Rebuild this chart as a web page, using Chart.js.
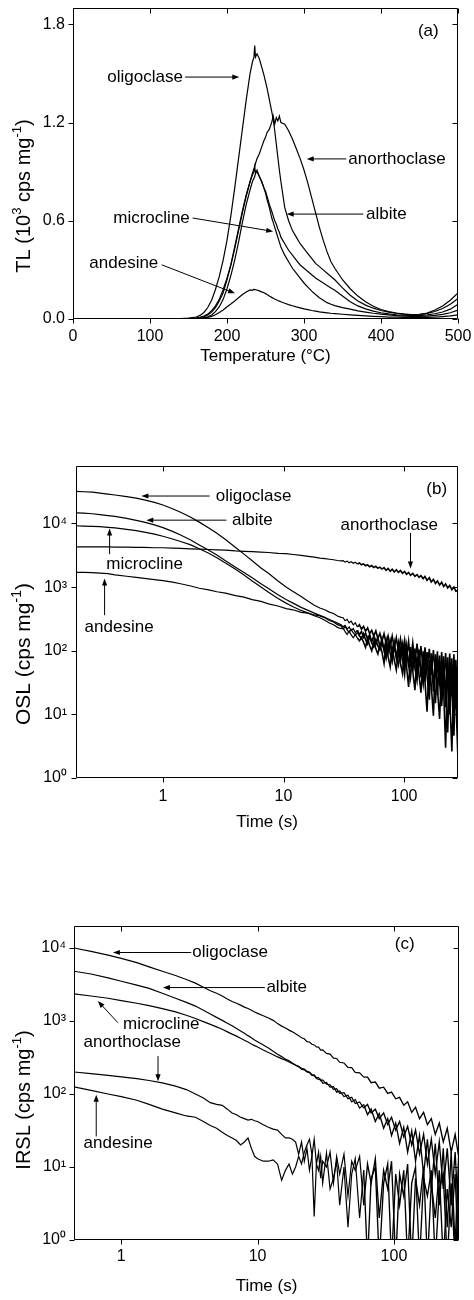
<!DOCTYPE html>
<html>
<head>
<meta charset="utf-8">
<title>TL, OSL and IRSL of feldspars</title>
<script src="https://cdn.jsdelivr.net/npm/chart.js@4.4.1/dist/chart.umd.min.js"></script>
<style>
  html, body { margin: 0; padding: 0; background: #fff; }
  body { position: relative; width: 474px; height: 1300px; overflow: hidden; }
  canvas { position: absolute; left: 0; }
</style>
</head>
<body>
<canvas id="tlChart" width="474" height="375" style="top:0px"></canvas>
<canvas id="oslChart" width="474" height="400" style="top:440px"></canvas>
<canvas id="irslChart" width="474" height="400" style="top:900px"></canvas>
<script>
// ---------- (a) TL glow curves, 10^3 cps/mg ----------
const tlTemp = [0, 50, 100, 140, 150, 160, 165, 170, 175, 180, 185, 190, 195, 200, 205, 210, 215, 220, 225, 230,
  233, 235, 236, 237, 239, 242, 245, 248, 250, 252, 255, 258, 260, 262, 264, 266, 268, 270, 275, 280,
  285, 290, 295, 300, 305, 310, 315, 320, 325, 330, 335, 340, 350, 360, 370, 380, 390, 400, 410, 420,
  430, 440, 450, 460, 470, 480, 490, 500];
const tlOligoclase = [0.002, 0.001, 0.002, 0.003, 0.005, 0.012, 0.022, 0.04, 0.07, 0.115, 0.18, 0.26, 0.36, 0.48, 0.63, 0.8, 0.98, 1.16, 1.34, 1.5,
  1.57, 1.6, 1.67, 1.6, 1.62, 1.59, 1.54, 1.49, 1.45, 1.41, 1.34, 1.27, 1.22, 1.15, 1.07, 0.99, 0.91, 0.84, 0.68, 0.6,
  0.54, 0.5, 0.46, 0.43, 0.4, 0.37, 0.34, 0.32, 0.3, 0.28, 0.26, 0.24, 0.19, 0.145, 0.11, 0.085, 0.066, 0.052, 0.042, 0.035,
  0.03, 0.027, 0.028, 0.034, 0.046, 0.064, 0.09, 0.125];
const tlAnorthoclase = [0.001, 0.002, 0.001, 0.002, 0.003, 0.006, 0.01, 0.018, 0.03, 0.05, 0.08, 0.12, 0.18, 0.25, 0.33, 0.43, 0.54, 0.65, 0.75, 0.84,
  0.89, 0.92, 0.93, 0.95, 0.98, 1.01, 1.05, 1.09, 1.11, 1.14, 1.16, 1.2, 1.24, 1.19, 1.23, 1.21, 1.24, 1.2, 1.19, 1.15,
  1.1, 1.04, 0.98, 0.91, 0.83, 0.74, 0.65, 0.56, 0.48, 0.41, 0.35, 0.31, 0.24, 0.185, 0.14, 0.105, 0.078, 0.058, 0.045, 0.036,
  0.03, 0.026, 0.027, 0.036, 0.055, 0.08, 0.115, 0.16];
const tlAlbite = [0.001, 0.001, 0.002, 0.002, 0.003, 0.005, 0.008, 0.014, 0.025, 0.042, 0.07, 0.11, 0.16, 0.24, 0.33, 0.44, 0.55, 0.66, 0.76, 0.84,
  0.88, 0.9, 0.93, 0.89, 0.91, 0.87, 0.84, 0.8, 0.78, 0.75, 0.7, 0.66, 0.63, 0.6, 0.58, 0.55, 0.53, 0.5, 0.46, 0.42,
  0.39, 0.36, 0.33, 0.31, 0.29, 0.27, 0.25, 0.235, 0.22, 0.205, 0.19, 0.175, 0.14, 0.105, 0.08, 0.062, 0.048, 0.038, 0.031, 0.026,
  0.023, 0.021, 0.021, 0.025, 0.032, 0.043, 0.06, 0.09];
const tlMicrocline = [0.001, 0.001, 0.001, 0.002, 0.002, 0.003, 0.005, 0.008, 0.014, 0.024, 0.045, 0.075, 0.12, 0.185, 0.265, 0.36, 0.47, 0.59, 0.7, 0.79,
  0.84, 0.86, 0.87, 0.89, 0.9, 0.87, 0.84, 0.8, 0.77, 0.73, 0.68, 0.62, 0.59, 0.56, 0.53, 0.5, 0.47, 0.44, 0.39, 0.35,
  0.31, 0.28, 0.25, 0.22, 0.195, 0.17, 0.15, 0.13, 0.115, 0.1, 0.09, 0.082, 0.07, 0.06, 0.05, 0.042, 0.035, 0.03, 0.025, 0.021,
  0.018, 0.016, 0.016, 0.018, 0.022, 0.028, 0.038, 0.055];
const tlAndesine = [0.001, 0.001, 0.001, 0.001, 0.002, 0.003, 0.004, 0.006, 0.01, 0.016, 0.026, 0.04, 0.055, 0.075, 0.092, 0.11, 0.13, 0.15, 0.165, 0.178,
  0.175, 0.182, 0.178, 0.18, 0.176, 0.172, 0.166, 0.16, 0.155, 0.15, 0.14, 0.132, 0.127, 0.122, 0.118, 0.113, 0.109, 0.105, 0.096, 0.088,
  0.081, 0.074, 0.068, 0.062, 0.057, 0.052, 0.048, 0.044, 0.041, 0.038, 0.035, 0.033, 0.029, 0.025, 0.022, 0.019, 0.016, 0.014, 0.012, 0.011,
  0.01, 0.009, 0.009, 0.01, 0.012, 0.015, 0.019, 0.025];
const tlTempTicks = [0, 50, 100, 150, 200, 250, 300, 350, 400, 450, 500];
const tlTempMajor = [0, 100, 200, 300, 400, 500];
const tlTempLabels = ['0', '100', '200', '300', '400', '500'];
const tlCountTicks = [0, 0.3, 0.6, 0.9, 1.2, 1.5, 1.8];
const tlCountMajor = [0, 0.6, 1.2, 1.8];
const tlCountLabels = ['0.0', '0.6', '1.2', '1.8'];

// ---------- (b) OSL decay curves, cps/mg ----------
const oslTime = [0.19, 0.22, 0.26, 0.3, 0.35, 0.4, 0.5, 0.6, 0.7, 0.85, 1, 1.2, 1.4, 1.7, 2, 2.4, 2.8, 3.3, 4, 4.7,
  5.5, 6.5, 7.5, 9, 10.5, 12, 14, 16, 18,
  20, 22, 24, 26, 28, 30, 31.2, 32.4, 33.7, 35, 36.4, 37.9, 39.4, 41, 42.6, 44.3,
  46.1, 47.9, 49.8, 51.8, 53.9, 56, 58.3, 60.6, 63, 65.5, 68.2, 70.9, 73.7, 76.7, 79.7, 82.9, 86.2, 89.7, 93.3, 97,
  101, 105, 109, 113, 118, 123, 128, 133, 138, 144, 149, 155, 162, 168, 175, 182, 189, 197, 205, 213,
  221, 230, 239, 249, 259, 269, 280];
const oslOligoclase = [32000, 31500, 31000, 30000, 29000, 28000, 26500, 25000, 23500, 21500, 19500, 17000, 15000, 12500, 10500, 8500, 7000, 5600, 4200, 3300,
  2600, 2000, 1650, 1250, 1000, 850, 710, 600, 520,
  470, 440, 405, 385, 352, 335, 330, 296, 312, 275, 292, 255, 275, 236, 257, 218,
  241, 202, 228, 186, 209, 170, 205, 155, 188, 140, 185, 130, 172, 116, 170, 110, 160, 97, 154, 92,
  148, 77, 140, 66, 133, 63, 130, 57, 118, 52, 113, 52, 107, 42, 102, 40, 98, 28, 95, 26,
  92, 25, 90, 19, 88, 12, 84];
const oslAlbite = [14700, 14500, 14200, 13800, 13300, 12900, 12000, 11200, 10500, 9500, 8600, 7500, 6600, 5500, 4600, 3800, 3200, 2600, 2050, 1700,
  1400, 1130, 950, 760, 640, 560, 480, 430, 390,
  360, 334, 310, 290, 272, 257, 238, 250, 220, 236, 207, 223, 192, 211, 178, 200,
  163, 189, 151, 180, 138, 170, 126, 163, 115, 156, 104, 149, 95, 142, 85, 136, 77, 131, 69, 124,
  62, 119, 55, 114, 48, 108, 43, 104, 38, 98, 33, 95, 27, 91, 23, 88, 20, 84, 16, 82,
  13, 79, 10, 76, 8, 72, 6];
const oslMicrocline = [9200, 9100, 9000, 8900, 8700, 8500, 8100, 7700, 7300, 6800, 6300, 5700, 5200, 4600, 4000, 3400, 2900, 2400, 1900, 1550,
  1250, 1000, 830, 660, 560, 490, 430, 390, 355,
  330, 302, 272, 256, 233, 222, 229, 200, 180, 204, 177, 160, 181, 158, 143, 161,
  136, 113, 157, 121, 100, 139, 107, 89, 124, 96, 63, 126, 81, 56, 112, 72, 50, 100, 64, 44,
  101, 54, 27, 90, 48, 24, 81, 42, 22, 71, 33, 11, 72, 29, 9.5, 63, 26, 8.5, 56, 23,
  3, 55, 20, 2.6, 48, 17, 1.9];
const oslAnorthoclase = [4300, 4300, 4300, 4280, 4280, 4250, 4250, 4200, 4200, 4150, 4150, 4100, 4050, 4000, 3950, 3900, 3850, 3800, 3700, 3650,
  3600, 3550, 3500, 3400, 3350, 3250, 3150, 3050, 2950,
  2850, 2800, 2740, 2690, 2620, 2590, 2610, 2470, 2560, 2420, 2510, 2370, 2460, 2300, 2390, 2240,
  2320, 2160, 2240, 2090, 2180, 2030, 2120, 1980, 2060, 1920, 2020, 1830, 1960, 1770, 1910, 1730, 1870, 1700, 1820, 1650,
  1760, 1590, 1700, 1530, 1640, 1480, 1570, 1420, 1510, 1360, 1470, 1280, 1400, 1200, 1320, 1140, 1250, 1080, 1190, 1020,
  1120, 970, 1060, 910, 1000, 860, 890];
const oslAndesine = [1700, 1700, 1690, 1660, 1630, 1560, 1480, 1420, 1370, 1310, 1260, 1200, 1130, 1040, 960, 905, 845, 805, 735, 695,
  635, 595, 545, 505, 460, 440, 400, 390, 365,
  352, 330, 298, 283, 257, 246, 218, 242, 213, 194, 216, 190, 175, 194, 172, 156,
  186, 149, 128, 168, 133, 115, 150, 119, 103, 133, 102, 76, 135, 91, 67, 121, 81, 60, 108, 73,
  42, 107, 61, 38, 96, 54, 34, 86, 49, 30, 87, 41, 17, 78, 36, 15, 69, 32, 13.5, 61,
  27, 5.2, 61, 24, 4.6, 55, 22];

// ---------- (c) IRSL decay curves, cps/mg ----------
const irslTime = [0.45, 0.6, 0.8, 1, 1.3, 1.6, 2, 2.5, 3, 3.5, 4, 4.5, 5, 5.5, 6, 6.5, 7, 7.5, 8, 8.5,
  9, 9.5, 10, 11, 12, 13, 14, 15, 16, 17, 18, 19, 20, 21, 22, 23, 24, 25, 26, 27,
  28, 29, 30, 32, 34, 36, 38, 40, 43, 46, 49, 52, 56, 60, 64, 68, 73, 78, 84, 90,
  96, 103, 110, 118, 126, 135, 144, 154, 165, 176, 188, 201, 215, 230, 246, 263, 281, 298];
const irslOligoclase = [10000, 9000, 8000, 7200, 6300, 5500, 4800, 4200, 3700, 3300, 2900, 2600, 2400, 2200, 2000, 1850, 1750, 1650, 1550, 1480,
  1400, 1330, 1270, 1180, 1100, 1020, 920, 850, 800, 750, 710, 670, 630, 590, 570, 520, 515, 480, 470, 440,
  438, 400, 402, 360, 352, 310, 306, 272, 266, 232, 230, 198, 195, 170, 170, 143, 146, 120, 124, 102,
  106, 86, 90, 70, 78, 56, 66, 46, 56, 38, 46, 28, 40, 22, 34, 16, 28, 14];
const irslAlbite = [4800, 4400, 3900, 3500, 3100, 2800, 2400, 2050, 1800, 1600, 1400, 1250, 1120, 1020, 930, 860, 790, 730, 680, 630,
  590, 550, 520, 470, 425, 385, 350, 325, 300, 285, 265, 250, 240, 225, 220, 204, 200, 185, 183, 168,
  168, 152, 156, 136, 134, 116, 118, 102, 104, 86, 90, 74, 78, 64, 72, 55, 62, 46, 55, 38,
  48, 32, 42, 26, 36, 20, 32, 15, 28, 11, 24, 8, 22, 5, 18, 3, 16, 2];
const irslMicrocline = [2350, 2200, 2050, 1900, 1750, 1620, 1480, 1330, 1200, 1080, 980, 900, 830, 770, 710, 660, 620, 580, 545, 515,
  485, 460, 440, 400, 370, 345, 322, 305, 290, 275, 260, 248, 235, 218, 214, 200, 196, 180, 178, 163,
  158, 160, 140, 144, 124, 126, 106, 110, 92, 96, 78, 84, 64, 72, 52, 62, 42, 54, 34, 46,
  27, 40, 21, 35, 16, 31, 12, 27, 8, 24, 5, 21, 3, 18, 1.5, 16, 0.8, 14];
const irslAnorthoclase = [200, 190, 180, 172, 162, 153, 142, 128, 115, 100, 88, 76, 72, 70, 62, 55, 52, 48, 46, 44,
  45, 43, 42, 38, 35, 33, 32, 28, 25, 25, 24, 22, 15, 22, 12, 18, 9, 14, 24, 11,
  16, 7, 12, 10, 16, 6, 14, 8, 15, 4, 12, 9, 14, 3, 11, 6, 13, 2, 9, 5,
  12, 0.5, 8, 4, 11, 0.5, 7, 3, 10, 0.5, 6, 2, 9, 0.5, 5, 1.5, 8, 0.5];
const irslAndesine = [125, 112, 100, 92, 82, 72, 62, 55, 50, 48, 42, 37, 34, 30, 27, 25, 23, 20, 22, 25,
  18, 14, 13, 12, 12, 12.5, 11, 6.6, 9, 11, 8, 10, 14, 11, 16, 20, 24, 15, 2.1, 11,
  9, 14, 6, 15.5, 5, 7, 12, 3, 10, 1.5, 8, 13, 2, 9, 0.5, 7, 10, 0.5, 6, 11,
  0.5, 8, 3, 9, 0.5, 6, 10, 0.5, 7, 4, 9, 0.5, 5, 8, 0.5, 6, 0.5, 4];

// log axis labels
const timeMajor = [1, 10, 100];
const timeLabels = ['1', '10', '100'];
const countMajor = [1, 10, 100, 1000, 10000];
const countLabels = ['10⁰', '10¹', '10²', '10³', '10⁴'];

// ---------- labels with arrows (data coordinates) ----------
const tlNotes = [
  { text: 'oligoclase', x: 44.5, y: 1.478 },
  { text: 'anorthoclase', x: 357.5, y: 0.978 },
  { text: 'albite', x: 380.5, y: 0.641 },
  { text: 'microcline', x: 52.3, y: 0.617 },
  { text: 'andesine', x: 21.2, y: 0.341 },
  { text: '(a)', x: 448, y: 1.76 }
];
const tlArrows = [
  [145.5, 1.478, 216, 1.478],
  [355, 0.978, 303.5, 0.978],
  [377, 0.641, 277.5, 0.641],
  [155.4, 0.617, 260, 0.535],
  [115.2, 0.331, 210.4, 0.157]
];
const oslNotes = [
  { text: 'oligoclase', x: 2.74, y: 27000 },
  { text: 'albite', x: 3.74, y: 11270 },
  { text: 'anorthoclase', x: 29.7, y: 9400 },
  { text: 'microcline', x: 0.339, y: 2290 },
  { text: 'andesine', x: 0.224, y: 237 },
  { text: '(b)', x: 153, y: 34300 }
];
const oslArrows = [
  [2.44, 27000, 0.662, 27000],
  [3.36, 11270, 0.728, 11270],
  [0.361, 3290, 0.361, 8320],
  [0.328, 362, 0.328, 1365],
  [113, 7110, 113, 1960]
];
const irslNotes = [
  { text: 'oligoclase', x: 3.32, y: 8670 },
  { text: 'albite', x: 11.6, y: 2870 },
  { text: 'microcline', x: 1.03, y: 898 },
  { text: 'anorthoclase', x: 0.529, y: 503 },
  { text: 'andesine', x: 0.529, y: 21.3 },
  { text: '(c)', x: 101.5, y: 11300 }
];
const irslArrows = [
  [3.26, 8670, 0.868, 8670],
  [11.3, 2870, 2.02, 2870],
  [0.944, 948, 0.673, 1876],
  [1.86, 330, 1.86, 149],
  [0.655, 26.2, 0.655, 98]
];

const FONT = '"Liberation Sans", Arial, Helvetica, sans-serif';
Chart.defaults.font.family = FONT;
Chart.defaults.color = '#000';

const toPoints = (xs, ys) => xs.map((x, i) => ({ x: x, y: ys[i] }));
// noisy tails are drawn a little heavier so the scatter reads as a band
const curve = (xs, ys, tailFrom, tailWidth) => ({
  data: toPoints(xs, ys), borderColor: '#000', borderWidth: 1.2, pointRadius: 0, fill: false, tension: 0,
  segment: { borderWidth: c => (c.p0.parsed.x >= tailFrom ? tailWidth : 1.2) }
});

function logTicks(min, max) {
  const out = [];
  for (let e = Math.floor(Math.log10(min)); e <= Math.ceil(Math.log10(max)); e++) {
    for (let k = 1; k < 10; k++) {
      const v = k * Math.pow(10, e);
      if (v >= min * 0.999 && v <= max * 1.001) out.push(v);
    }
  }
  return out;
}

const labelFrom = (majors, labels) => v => {
  const i = majors.findIndex(m => Math.abs(m - v) <= 1e-6 * Math.max(1, m));
  return i < 0 ? null : labels[i];
};

function arrow(ctx, x1, y1, x2, y2) {
  const a = Math.atan2(y2 - y1, x2 - x1), h = 7, w = 2.6;
  const c = Math.cos(a), s = Math.sin(a);
  ctx.beginPath();
  ctx.moveTo(x1, y1);
  ctx.lineTo(x2 - h * 0.7 * c, y2 - h * 0.7 * s);
  ctx.stroke();
  ctx.beginPath();
  ctx.moveTo(x2, y2);
  ctx.lineTo(x2 - h * c + w * s, y2 - h * s - w * c);
  ctx.lineTo(x2 - h * c - w * s, y2 - h * s + w * c);
  ctx.closePath();
  ctx.fill();
}

// frame, mirrored ticks, notes and y title
function decor(o) {
  return {
    id: 'decor',
    afterDraw(chart) {
      const { ctx, chartArea: a } = chart;
      const x = chart.scales.x, y = chart.scales.y;
      const L = Math.round(a.left) + 0.5, R = Math.round(a.right) - 0.5;
      const T = Math.round(a.top) + 0.5, B = Math.round(a.bottom) - 0.5;
      ctx.save();
      ctx.strokeStyle = '#000';
      ctx.fillStyle = '#000';
      ctx.lineWidth = 1;
      ctx.beginPath();
      ctx.rect(L, T, R - L, B - T);
      x.ticks.forEach(t => {
        const p = Math.round(x.getPixelForValue(t.value)) + 0.5;
        const n = t.label ? 5 : 3;
        ctx.moveTo(p, B); ctx.lineTo(p, B + n);
        ctx.moveTo(p, T); ctx.lineTo(p, T + n);
      });
      y.ticks.forEach(t => {
        const p = Math.round(y.getPixelForValue(t.value)) + 0.5;
        const n = t.label ? 5 : 3;
        ctx.moveTo(L, p); ctx.lineTo(L - n, p);
        ctx.moveTo(R, p); ctx.lineTo(R - n, p);
      });
      ctx.stroke();

      ctx.font = '17px ' + FONT;
      ctx.textAlign = 'left';
      ctx.textBaseline = 'middle';
      o.notes.forEach(n => ctx.fillText(n.text, x.getPixelForValue(n.x), y.getPixelForValue(n.y)));
      o.arrows.forEach(r => arrow(ctx, x.getPixelForValue(r[0]), y.getPixelForValue(r[1]),
        x.getPixelForValue(r[2]), y.getPixelForValue(r[3])));

      // rotated y title with real superscripts
      ctx.translate(o.titlePos[0], o.titlePos[1]);
      ctx.rotate(-Math.PI / 2);
      const big = o.titleSize + 'px ' + FONT, small = Math.round(o.titleSize * 0.65) + 'px ' + FONT;
      let w = 0;
      o.yTitle.forEach(([s, sup]) => { ctx.font = sup ? small : big; w += ctx.measureText(s).width; });
      let cx = -w / 2;
      o.yTitle.forEach(([s, sup]) => {
        ctx.font = sup ? small : big;
        ctx.fillText(s, cx, sup ? -7 : 0);
        cx += ctx.measureText(s).width;
      });
      ctx.restore();
    }
  };
}

function panel(id, o) {
  return new Chart(document.getElementById(id), {
    type: 'line',
    data: { datasets: o.series.map(s => curve(o.xs, s, o.tailFrom, o.tailWidth)) },
    options: {
      responsive: false,
      animation: false,
      devicePixelRatio: 1,
      layout: { padding: { top: o.top, right: o.right, left: 0, bottom: 0 } },
      plugins: { legend: { display: false }, tooltip: { enabled: false } },
      scales: {
        x: {
          type: o.xType, min: o.xMin, max: o.xMax,
          grid: { display: false, drawTicks: false },
          border: { display: false },
          afterBuildTicks: s => { s.ticks = o.xTicks.map(v => ({ value: v })); },
          afterFit: s => { s.height = o.xHeight; s.paddingLeft = 0; s.paddingRight = 0; },
          ticks: { autoSkip: false, maxRotation: 0, padding: o.xPad, font: { size: 16 }, color: '#000',
            callback: labelFrom(o.xMajor, o.xLabels) },
          title: { display: true, text: o.xTitle, color: '#000', font: { size: 17 },
            padding: { top: 0, bottom: o.xTitlePad } }
        },
        y: {
          type: o.yType, min: o.yMin, max: o.yMax,
          grid: { display: false, drawTicks: false },
          border: { display: false },
          afterBuildTicks: s => { s.ticks = o.yTicks.map(v => ({ value: v })); },
          afterFit: s => { s.width = o.yWidth; s.paddingTop = 0; s.paddingBottom = 0; },
          ticks: { autoSkip: false, padding: o.yPad, font: { size: 16 }, color: '#000',
            callback: labelFrom(o.yMajor, o.yLabels) }
        }
      }
    },
    plugins: [decor(o)]
  });
}

panel('tlChart', {
  xs: tlTemp,
  series: [tlOligoclase, tlAnorthoclase, tlAlbite, tlMicrocline, tlAndesine],
  tailFrom: Infinity, tailWidth: 1.2,
  top: 8, right: 16, yWidth: 73, xHeight: 56, xPad: 8, yPad: 8, xTitlePad: 8,
  xType: 'linear', xMin: 0, xMax: 500, xTicks: tlTempTicks, xMajor: tlTempMajor, xLabels: tlTempLabels,
  yType: 'linear', yMin: 0, yMax: 1.9, yTicks: tlCountTicks, yMajor: tlCountMajor, yLabels: tlCountLabels,
  xTitle: 'Temperature (°C)',
  yTitle: [['TL (10', false], ['3', true], [' cps mg', false], ['-1', true], [')', false]],
  titlePos: [24, 196], titleSize: 20,
  notes: tlNotes, arrows: tlArrows
});

panel('oslChart', {
  xs: oslTime,
  series: [oslOligoclase, oslAlbite, oslMicrocline, oslAnorthoclase, oslAndesine],
  tailFrom: 40, tailWidth: 1.6,
  top: 26, right: 16, yWidth: 76, xHeight: 62, xPad: 9, yPad: 9, xTitlePad: 7,
  xType: 'logarithmic', xMin: 0.19, xMax: 280, xTicks: logTicks(0.19, 280), xMajor: timeMajor, xLabels: timeLabels,
  yType: 'logarithmic', yMin: 1, yMax: 80000, yTicks: logTicks(1, 80000), yMajor: countMajor, yLabels: countLabels,
  xTitle: 'Time (s)',
  yTitle: [['OSL (cps mg', false], ['-1', true], [')', false]],
  titlePos: [24, 214], titleSize: 21,
  notes: oslNotes, arrows: oslArrows
});

panel('irslChart', {
  xs: irslTime,
  series: [irslOligoclase, irslAlbite, irslMicrocline, irslAnorthoclase, irslAndesine],
  tailFrom: 60, tailWidth: 1.35,
  top: 26, right: 15, yWidth: 74, xHeight: 60, xPad: 7, yPad: 8, xTitlePad: 3,
  xType: 'logarithmic', xMin: 0.45, xMax: 300, xTicks: logTicks(0.45, 300), xMajor: timeMajor, xLabels: timeLabels,
  yType: 'logarithmic', yMin: 1, yMax: 20000, yTicks: logTicks(1, 20000), yMajor: countMajor, yLabels: countLabels,
  xTitle: 'Time (s)',
  yTitle: [['IRSL (cps mg', false], ['-1', true], [')', false]],
  titlePos: [24, 200], titleSize: 20,
  notes: irslNotes, arrows: irslArrows
});
</script>
</body>
</html>
